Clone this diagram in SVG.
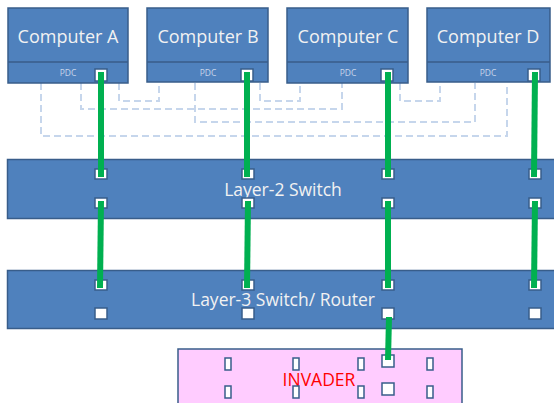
<svg xmlns="http://www.w3.org/2000/svg" width="554" height="403" viewBox="0 0 554 403">
<style>
.box{fill:#4f81bd;stroke:#385d8a;stroke-width:1.5}
.lbl{font-family:"Open Sans","Liberation Sans",sans-serif;fill:#f2f2f2;text-anchor:middle}
.pdc{font-family:"Open Sans","Liberation Sans",sans-serif;fill:#c9d6ea;font-size:8.5px;text-anchor:middle}
.port{fill:#ffffff;stroke:#385d8a;stroke-width:1.5}
.dash{fill:none;stroke:#c6d6ec;stroke-width:2;stroke-dasharray:7,4}
.green{stroke:#00b050;stroke-width:6;fill:none}
</style>
<g id="dashed-links">
<polyline class="dash" points="41,83 41,136 507,136 507,83"/>
<polyline class="dash" points="81,83 81,109 342,109 342,83"/>
<polyline class="dash" points="119,83 119,101 159,101 159,83"/>
<polyline class="dash" points="195,83 195,122 475,122 475,83"/>
<polyline class="dash" points="260,83 260,101 300,101 300,83"/>
<polyline class="dash" points="400,83 400,101 440,101 440,83"/>
</g>
<g id="computer-a">
<rect class="box" x="8" y="8" width="120" height="75"/>
<line x1="8" y1="62" x2="128" y2="62" stroke="#385d8a" stroke-width="1.5"/>
<text class="lbl" x="68" y="43" font-size="18">Computer A</text>
<text class="pdc" x="68" y="76">PDC</text>
<rect class="port" x="95" y="69" width="12" height="12"/>
</g>
<g id="computer-b">
<rect class="box" x="147" y="8" width="121" height="74"/>
<line x1="147" y1="62" x2="268" y2="62" stroke="#385d8a" stroke-width="1.5"/>
<text class="lbl" x="208" y="43" font-size="18">Computer B</text>
<text class="pdc" x="208" y="76">PDC</text>
<rect class="port" x="241" y="69" width="12" height="12"/>
</g>
<g id="computer-c">
<rect class="box" x="287" y="8" width="121" height="75"/>
<line x1="287" y1="62" x2="408" y2="62" stroke="#385d8a" stroke-width="1.5"/>
<text class="lbl" x="348" y="43" font-size="18">Computer C</text>
<text class="pdc" x="348" y="76">PDC</text>
<rect class="port" x="381" y="69" width="12" height="12"/>
</g>
<g id="computer-d">
<rect class="box" x="427" y="8" width="123" height="74"/>
<line x1="427" y1="62" x2="550" y2="62" stroke="#385d8a" stroke-width="1.5"/>
<text class="lbl" x="488" y="43" font-size="18">Computer D</text>
<text class="pdc" x="488" y="76">PDC</text>
<rect class="port" x="528" y="69" width="12" height="12"/>
</g>
<g id="layer2-switch">
<rect class="box" x="7.5" y="159.5" width="560" height="59"/>
<text class="lbl" x="283" y="196" font-size="17.5">Layer-2 Switch</text>
<rect class="port" x="95" y="169" width="12" height="10"/>
<rect class="port" x="242" y="169" width="12" height="10"/>
<rect class="port" x="382" y="169" width="12" height="10"/>
<rect class="port" x="529" y="169" width="12" height="10"/>
<rect class="port" x="95" y="198" width="12" height="10"/>
<rect class="port" x="242" y="198" width="12" height="10"/>
<rect class="port" x="382" y="198" width="12" height="10"/>
<rect class="port" x="529" y="198" width="12" height="10"/>
</g>
<g id="layer3-router">
<rect class="box" x="7.5" y="270.5" width="560" height="58"/>
<text class="lbl" x="283" y="306" font-size="17.5">Layer-3 Switch/ Router</text>
<rect class="port" x="95" y="280" width="12" height="10"/>
<rect class="port" x="242" y="280" width="12" height="10"/>
<rect class="port" x="382" y="280" width="12" height="10"/>
<rect class="port" x="529" y="280" width="12" height="10"/>
<rect class="port" x="95" y="308" width="12" height="11"/>
<rect class="port" x="242" y="308" width="12" height="11"/>
<rect class="port" x="382" y="308" width="12" height="11"/>
<rect class="port" x="529" y="308" width="12" height="11"/>
</g>
<g id="invader">
<rect x="178" y="349" width="284" height="60" fill="#ffccff" stroke="#385d8a" stroke-width="1.5"/>
<text x="319" y="386" font-family="'Open Sans','Liberation Sans',sans-serif" font-size="17.5" fill="#ff0000" text-anchor="middle">INVADER</text>
<rect class="port" x="225" y="358" width="6" height="12"/>
<rect class="port" x="293" y="358" width="6" height="12"/>
<rect class="port" x="358" y="358" width="6" height="12"/>
<rect class="port" x="427" y="358" width="6" height="12"/>
<rect class="port" x="225" y="386" width="6" height="12"/>
<rect class="port" x="293" y="386" width="6" height="12"/>
<rect class="port" x="358" y="386" width="6" height="12"/>
<rect class="port" x="427" y="386" width="6" height="12"/>
<rect class="port" x="382" y="355" width="12" height="12"/>
<rect class="port" x="382" y="383" width="12" height="12"/>
</g>
<g id="connectors">
<line class="green" x1="101" y1="72" x2="101" y2="177"/>
<line class="green" x1="247" y1="72" x2="247" y2="177"/>
<line class="green" x1="388" y1="72" x2="388" y2="177"/>
<line class="green" x1="535" y1="72" x2="534" y2="177"/>
<line class="green" x1="101" y1="201" x2="100" y2="288"/>
<line class="green" x1="248" y1="201" x2="247" y2="288"/>
<line class="green" x1="388" y1="201" x2="388" y2="288"/>
<line class="green" x1="535" y1="201" x2="534" y2="288"/>
<line class="green" x1="389" y1="317" x2="388" y2="360"/>
</g>
</svg>
